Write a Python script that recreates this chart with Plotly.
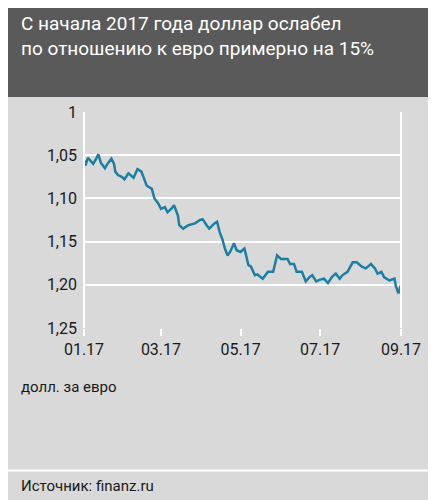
import plotly.graph_objects as go
import pandas as pd

days = [0,1,3,7,9,11,13,16,18,21,23,24,26,29,31,34,38,41,44,46,48,50,52,54,57,59,62,64,67,69,72,73,76,80,85,89,91,94,96,100,102,104,106,108,110,112,115,117,120,123,126,128,131,133,137,141,145,148,151,156,158,161,163,167,170,173,175,178,181,184,187,190,193,196,198,202,206,209,213,216,220,223,225,228,230,234,238,239,241,243]
rates = [1.056,1.062,1.053,1.060,1.055,1.049,1.059,1.065,1.060,1.054,1.060,1.069,1.073,1.075,1.078,1.071,1.076,1.066,1.069,1.077,1.085,1.087,1.089,1.100,1.106,1.112,1.110,1.116,1.112,1.108,1.120,1.131,1.135,1.131,1.129,1.125,1.124,1.131,1.135,1.129,1.127,1.139,1.147,1.158,1.166,1.162,1.152,1.160,1.162,1.158,1.177,1.179,1.189,1.188,1.193,1.185,1.185,1.166,1.170,1.170,1.176,1.176,1.185,1.185,1.196,1.191,1.189,1.196,1.194,1.193,1.198,1.191,1.187,1.193,1.189,1.185,1.174,1.174,1.179,1.181,1.176,1.181,1.187,1.185,1.191,1.195,1.193,1.201,1.210,1.200]
dates = [pd.Timestamp("2017-01-01") + pd.Timedelta(days=d) for d in days]
tick_dates = ["2017-01-01","2017-03-01","2017-05-01","2017-07-01","2017-09-01"]
tick_labels = ["01.17","03.17","05.17","07.17","09.17"]
y_ticks = [1,1.05,1.10,1.15,1.20,1.25]
y_labels = ["1","1,05","1,10","1,15","1,20","1,25"]

FONT = "Roboto, sans-serif"
fig = go.Figure(go.Scatter(x=dates, y=rates, mode="lines",
                           line=dict(color="#1a7fa3", width=2.5)))
fig.update_layout(
    width=436, height=500, margin=dict(l=76, r=43, t=104, b=180),
    paper_bgcolor="#d9d9d9", plot_bgcolor="#d9d9d9", showlegend=False,
    font=dict(family=FONT, color="#1a1a1a", size=16),
    xaxis=dict(range=["2017-01-01","2017-09-01"], tickvals=tick_dates, ticktext=tick_labels,
               showgrid=False, zeroline=False, ticks="outside", tickcolor="white",
               ticklen=7, tickwidth=2, showline=False),
    yaxis=dict(range=[1.25,1.0], tickvals=y_ticks, ticktext=y_labels, gridcolor="white",
               gridwidth=2, zeroline=False, ticks="", showline=False, ticklabelstandoff=6),
    shapes=[
        dict(type="line", xref="paper", yref="paper", x0=0, x1=0, y0=0, y1=1, line=dict(color="white", width=2)),
        dict(type="line", xref="paper", yref="paper", x0=1, x1=1, y0=0, y1=1, line=dict(color="white", width=2)),
        dict(type="rect", xref="paper", yref="paper", x0=-0.25, x1=1.15, y0=1.07, y1=1.52,
             fillcolor="#5a5a5a", line=dict(width=0), layer="below"),
        dict(type="line", xref="paper", yref="paper", x0=-0.25, x1=1.15, y0=-0.66, y1=-0.66,
             line=dict(color="white", width=2)),
    ],
    annotations=[
        dict(text="С начала 2017 года доллар ослабел<br>по отношению к евро примерно на 15%",
             xref="paper", yref="paper", x=-0.205, y=1.47, xanchor="left", yanchor="top",
             showarrow=False, align="left", font=dict(size=19, color="white", family=FONT)),
        dict(text="долл. за евро", xref="paper", yref="paper", x=-0.205, y=-0.22,
             xanchor="left", yanchor="top", showarrow=False, font=dict(size=15)),
        dict(text="Источник: finanz.ru", xref="paper", yref="paper", x=-0.205, y=-0.68,
             xanchor="left", yanchor="top", showarrow=False, font=dict(size=15)),
    ],
)
fig.write_html("out.html")
